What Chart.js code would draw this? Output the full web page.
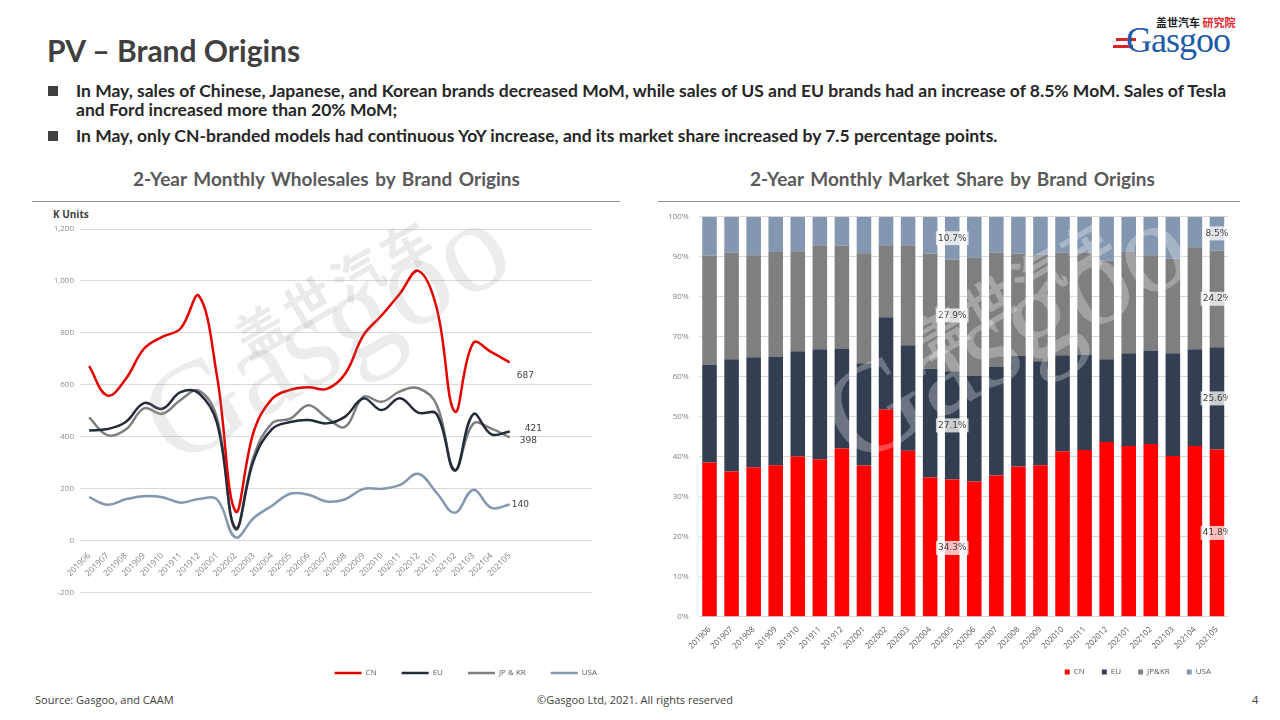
<!DOCTYPE html>
<html>
<head>
<meta charset="utf-8">
<title>PV – Brand Origins</title>
<script src="https://cdn.jsdelivr.net/npm/chart.js@4.4.1/dist/chart.umd.min.js"></script>
<style>
  body { margin: 0; width: 1280px; height: 720px; position: relative; overflow: hidden; background: #fff; font-family: Lato, "Open Sans", sans-serif; color: #404040; }
  .abs { position: absolute; white-space: nowrap; }
  #pageTitle { left: 47px; top: 32px; font-size: 30px; font-weight: bold; color: #404040; }
  .sq { position: absolute; left: 48px; width: 10px; height: 10px; background: #404040; }
  .note { left: 76px; font-size: 17.5px; font-weight: bold; color: #262626; line-height: 19px; }
  .chartTitle { top: 167px; font-size: 19px; font-weight: bold; color: #595959; width: 585px; text-align: center; word-spacing: 2px; }
  .rule { position: absolute; top: 201px; height: 1px; background: #8c8c8c; }
  canvas { position: absolute; }
  .wm { position: absolute; white-space: nowrap; transform-origin: left bottom; pointer-events: none; }
  .foot { top: 692px; font-size: 11px; color: #404040; font-family: "Open Sans", sans-serif; }
</style>
</head>
<body>
<div class="abs" id="pageTitle">PV – Brand Origins</div>

<!-- logo -->
<div class="abs" style="left:1156px;top:14px;font-size:11px;font-weight:bold;font-family:'Noto Sans CJK SC';color:#222;">盖世汽车 <span style="color:#e8262d;">研究院</span></div>
<div class="abs" style="left:1116px;top:38px;width:20px;height:3px;background:#d9232a;"></div>
<div class="abs" style="left:1113px;top:45px;width:20px;height:3px;background:#d9232a;"></div>
<div class="abs" style="left:1126px;top:19px;font-size:36px;font-family:'Liberation Serif',serif;color:#1b5aa6;letter-spacing:-1px;">Gasgoo</div>

<div class="sq" style="top:86px;"></div>
<div class="abs note" style="top:81px;">In May, sales of Chinese, Japanese, and Korean brands decreased MoM, while sales of US and EU brands had an increase of 8.5% MoM. Sales of Tesla<br>and Ford increased more than 20% MoM;</div>
<div class="sq" style="top:131px;"></div>
<div class="abs note" style="top:126px;">In May, only CN-branded models had continuous YoY increase, and its market share increased by 7.5 percentage points.</div>

<div class="abs chartTitle" style="left:34px;">2-Year Monthly Wholesales by Brand Origins</div>
<div class="abs chartTitle" style="left:660px;">2-Year Monthly Market Share by Brand Origins</div>
<div class="rule" style="left:32px;width:588px;"></div>
<div class="rule" style="left:658px;width:582px;"></div>

<div class="abs" style="left:53px;top:207px;font-size:10px;font-weight:bold;color:#404040;font-family:'Open Sans',sans-serif;">K Units</div>

<canvas id="salesChart" width="592" height="482" style="left:30px;top:205px;"></canvas>
<canvas id="shareChart" width="588" height="484" style="left:640px;top:202px;"></canvas>

<!-- watermark -->
<div class="wm" style="left:255px;top:300px;transform:rotate(-30deg);font-family:'Noto Sans CJK SC';font-weight:bold;font-size:50px;color:rgba(150,150,150,0.2);letter-spacing:6px;">盖世汽车</div>
<div class="wm" style="left:190px;top:345px;transform:rotate(-30deg);font-family:'Liberation Serif',serif;font-size:130px;color:rgba(150,150,150,0.18);">Gasgoo</div>
<div class="wm" style="left:935px;top:300px;transform:rotate(-30deg);font-family:'Noto Sans CJK SC';font-weight:bold;font-size:50px;color:rgba(255,255,255,0.3);letter-spacing:6px;">盖世汽车</div>
<div class="wm" style="left:870px;top:345px;transform:rotate(-30deg);font-family:'Liberation Serif',serif;font-size:130px;color:rgba(255,255,255,0.28);">Gasgoo</div>

<div class="abs foot" style="left:35px;">Source: Gasgoo, and CAAM</div>
<div class="abs foot" style="left:537px;">©Gasgoo Ltd,  2021. All rights reserved</div>
<div class="abs foot" style="left:1252px;">4</div>

<script>
// months shown on both charts
const months = ['201906','201907','201908','201909','201910','201911','201912','202001','202002','202003','202004','202005',
                '202006','202007','202008','202009','202010','202011','202012','202101','202102','202103','202104','202105'];
// the wholesale chart's axis has 4 unused slots on the right
const spareSlots = ['', '', '', ''];

// wholesales, K units
const cnSales   = [672, 559, 623, 739, 785, 817, 943, 630, 114, 420, 546, 581, 591, 585, 643, 791, 868, 952, 1039, 898, 497, 761, 726, 687];
const euSales   = [425, 430, 457, 530, 508, 572, 568, 452, 49, 310, 430, 457, 465, 452, 478, 548, 503, 549, 493, 488, 270, 487, 410, 421];
const jpkrSales = [475, 407, 428, 510, 489, 542, 578, 470, 44, 325, 452, 470, 522, 473, 439, 554, 535, 575, 587, 525, 274, 450, 432, 398];
const usaSales  = [168, 139, 160, 172, 168, 147, 161, 159, 13, 88, 135, 181, 177, 151, 160, 200, 200, 215, 258, 185, 108, 196, 127, 140];

// market share, %
const cnShare   = [38.6, 36.3, 37.4, 37.9, 40.1, 39.4, 42.1, 37.8, 51.9, 41.5, 34.8, 34.3, 33.8, 35.3, 37.6, 37.9, 41.4, 41.7, 43.7, 42.7, 43.2, 40.2, 42.7, 41.8];
const euShare   = [24.4, 28.1, 27.5, 27.2, 26.3, 27.5, 25.0, 25.6, 23.0, 26.4, 27.2, 27.1, 26.4, 27.3, 27.6, 26.0, 24.0, 23.9, 20.7, 23.2, 23.4, 25.7, 24.2, 25.6];
const jpkrShare = [27.3, 26.6, 25.5, 26.1, 25.0, 26.0, 25.7, 27.5, 18.0, 25.0, 28.8, 27.9, 29.7, 28.4, 25.6, 26.6, 25.6, 25.4, 24.7, 25.3, 23.8, 23.7, 25.5, 24.2];
const usaShare  = [9.7, 9.0, 9.6, 8.8, 8.6, 7.1, 7.2, 9.1, 7.1, 7.1, 9.2, 10.7, 10.1, 9.0, 9.2, 9.5, 9.0, 9.0, 10.9, 8.8, 9.6, 10.4, 7.6, 8.5];

// bars that carry share labels (202005 and 202105)
const labelledMonths = ['202005', '202105'];

const tickFont = { family: 'Open Sans', size: 8 };

// value labels at the end of each line
const endLabels = {
  id: 'endLabels',
  afterDatasetsDraw(chart) {
    const ctx = chart.ctx;
    const shift = { CN: [7, 13], EU: [15, -3], 'JP & KR': [10, 3], USA: [2, 0] };
    ctx.save();
    ctx.font = '9px "DejaVu Sans"';
    ctx.fillStyle = '#404040';
    ctx.textBaseline = 'middle';
    chart.data.datasets.forEach((ds, i) => {
      const last = ds.data.length - 1;
      const pt = chart.getDatasetMeta(i).data[last];
      const d = shift[ds.label];
      ctx.fillText(String(ds.data[last]), pt.x + d[0], pt.y + d[1]);
    });
    ctx.restore();
  }
};

// share labels inside the selected bars
const shareLabels = {
  id: 'shareLabels',
  afterDatasetsDraw(chart) {
    const ctx = chart.ctx;
    ctx.save();
    ctx.font = '9px "DejaVu Sans"';
    ctx.textAlign = 'center';
    ctx.textBaseline = 'middle';
    chart.data.datasets.forEach((ds, i) => {
      const meta = chart.getDatasetMeta(i);
      labelledMonths.forEach(m => {
        const idx = months.indexOf(m);
        const bar = meta.data[idx];
        const txt = ds.data[idx].toFixed(1) + '%';
        const y = (bar.y + bar.base) / 2;
        const w = ctx.measureText(txt).width + 4;
        ctx.fillStyle = 'rgba(255,255,255,0.75)';
        ctx.fillRect(bar.x - w / 2, y - 7, w, 14);
        ctx.fillStyle = '#404040';
        ctx.fillText(txt, bar.x, y);
      });
    });
    ctx.restore();
  }
};

function lineSet(label, data, color) {
  return { label, data, borderColor: color, backgroundColor: color, borderWidth: 2.5,
           pointRadius: 0, pointStyle: 'line', tension: 0.4, fill: false };
}

new Chart(document.getElementById('salesChart'), {
  type: 'line',
  data: {
    labels: months.concat(spareSlots),
    datasets: [
      lineSet('CN', cnSales, '#e60000'),
      lineSet('EU', euSales, '#232b38'),
      lineSet('JP & KR', jpkrSales, '#7f7f7f'),
      lineSet('USA', usaSales, '#8497b0')
    ]
  },
  options: {
    responsive: false,
    animation: false,
    layout: { padding: { top: 24, left: 0, right: 0, bottom: 0 } },
    scales: {
      x: {
        position: { y: 0 },
        offset: true,
        grid: { display: false },
        border: { display: false },
        ticks: { autoSkip: false, maxRotation: 45, minRotation: 45, padding: 2, font: { family: 'Open Sans', size: 8.5 }, color: '#7f7f7f' }
      },
      y: {
        min: -200, max: 1200,
        ticks: { stepSize: 200, font: tickFont, color: '#8c8c8c', padding: 6 },
        grid: { color: '#d9d9d9', drawTicks: false },
        border: { display: false },
        afterFit(s) { s.width = 50; }
      },
      spacer: {
        position: 'right',
        grid: { display: false }, border: { display: false }, ticks: { display: false },
        afterFit(s) { s.width = 30; }
      }
    },
    plugins: {
      legend: {
        position: 'bottom',
        align: 'end',
        title: { display: true, text: ' ', font: { size: 1 }, padding: { top: 50, bottom: 0 } },
        labels: { usePointStyle: true, pointStyleWidth: 27, padding: 25, font: { family: 'Open Sans', size: 8 }, color: '#595959' }
      },
      tooltip: { enabled: false }
    }
  },
  plugins: [endLabels]
});

function barSet(label, data, color) {
  return { label, data, backgroundColor: color, borderWidth: 0, barPercentage: 0.66, categoryPercentage: 1 };
}

new Chart(document.getElementById('shareChart'), {
  type: 'bar',
  data: {
    labels: months,
    datasets: [
      barSet('CN', cnShare, '#ff0000'),
      barSet('EU', euShare, '#333f50'),
      barSet('JP&KR', jpkrShare, '#7f7f7f'),
      barSet('USA', usaShare, '#8497b0')
    ]
  },
  options: {
    responsive: false,
    animation: false,
    layout: { padding: { top: 8, left: 0, right: 0, bottom: 0 } },
    scales: {
      x: {
        stacked: true,
        grid: { display: false },
        border: { display: false },
        ticks: { autoSkip: false, maxRotation: 45, minRotation: 45, padding: 0, font: tickFont, color: '#595959' }
      },
      y: {
        stacked: true,
        min: 0, max: 100,
        ticks: { stepSize: 10, font: tickFont, color: '#7f7f7f', padding: 10, callback: v => v + '%' },
        grid: { color: '#d9d9d9', drawTicks: false },
        border: { display: false },
        afterFit(s) { s.width = 58.5; }
      }
    },
    plugins: {
      legend: {
        position: 'bottom',
        align: 'end',
        labels: { boxWidth: 5, boxHeight: 5, padding: 17, font: { family: 'Open Sans', size: 8 }, color: '#595959' }
      },
      tooltip: { enabled: false }
    }
  },
  plugins: [shareLabels]
});
</script>
</body>
</html>
